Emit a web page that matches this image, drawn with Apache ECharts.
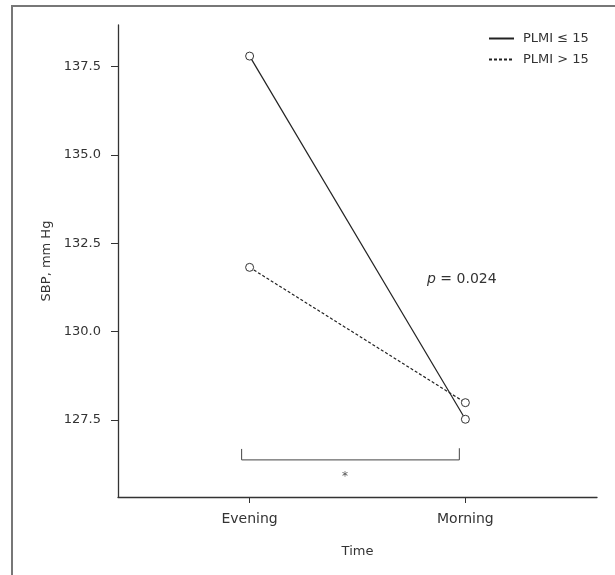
<!DOCTYPE html>
<html>
<head>
<meta charset="utf-8">
<script src="https://cdn.jsdelivr.net/npm/echarts@6/dist/echarts.min.js"></script>
<style>html,body{margin:0;padding:0;background:#fff;}#c{width:615px;height:575px;}</style>
</head>
<body>
<div id="c"></div>
<script>
// categories (x positions 0,1)
const categories = ['Evening', 'Morning'];
const seriesNames = ['PLMI \u2264 15', 'PLMI > 15'];
const plmiLow = [137.80, 127.52];   // PLMI <= 15
const plmiHigh = [131.82, 127.99];  // PLMI > 15
const yTicks = [127.5, 130.0, 132.5, 135.0, 137.5];
const bracketPts = [[-0.037, 126.68], [-0.037, 126.37], [0.972, 126.37], [0.972, 126.70]];
const pText = '0.024';

const FONT = 'DejaVu Sans';
const chart = echarts.init(document.getElementById('c'), null, {renderer: 'canvas'});
const toXY = arr => arr.map((v, i) => [i, v]);

chart.setOption({
  animation: false,
  backgroundColor: '#fff',
  textStyle: {fontFamily: FONT},
  grid: {left: 118, right: 18, top: 25, bottom: 78},
  legend: {
    orient: 'vertical', left: 483, top: 27, itemWidth: 25, itemHeight: 12, itemGap: 8,
    itemStyle: {opacity: 0},
    textStyle: {fontFamily: FONT, fontSize: 13, color: '#333', padding: [0, 0, 0, 4]},
    data: seriesNames
  },
  xAxis: {
    type: 'value', min: -0.61, max: 1.61,
    name: 'Time', nameLocation: 'middle', nameGap: 48,
    nameTextStyle: {fontFamily: FONT, fontSize: 13, color: '#333'},
    axisLine: {show: true, onZero: false, lineStyle: {color: '#333', width: 1.3}},
    axisTick: {show: true, length: 6, customValues: [0, 1], lineStyle: {color: '#333'}},
    axisLabel: {customValues: [0, 1], formatter: v => categories[Math.round(v)], fontSize: 14, color: '#333', margin: 15},
    splitLine: {show: false}
  },
  yAxis: {
    type: 'value', min: 125.32, max: 138.68,
    name: 'SBP, mm Hg', nameLocation: 'middle', nameGap: 46,
    nameTextStyle: {fontFamily: FONT, fontSize: 13, color: '#333'},
    axisLine: {show: true, onZero: false, lineStyle: {color: '#333', width: 1.3}},
    axisTick: {show: true, length: 7, customValues: yTicks, lineStyle: {color: '#333'}},
    axisLabel: {customValues: yTicks, formatter: v => v.toFixed(1), fontSize: 13, color: '#333', margin: 17},
    splitLine: {show: false}
  },
  series: [
    {
      name: seriesNames[0], type: 'line', data: toXY(plmiLow),
      symbol: 'circle', symbolSize: 8,
      itemStyle: {color: '#fff', borderColor: '#333', borderWidth: 1},
      lineStyle: {color: '#222', width: 1.2, type: 'solid'}, z: 3
    },
    {
      name: seriesNames[1], type: 'line', data: toXY(plmiHigh),
      symbol: 'circle', symbolSize: 8,
      itemStyle: {color: '#fff', borderColor: '#333', borderWidth: 1},
      lineStyle: {color: '#222', width: 1.2, type: [3, 2]}, z: 3
    },
    {
      name: 'bracket', type: 'line', data: bracketPts, symbol: 'none', silent: true,
      lineStyle: {color: '#444', width: 1}, z: 2
    }
  ],
  graphic: [
    {type: 'rect', shape: {x: 12, y: 6, width: 640, height: 620}, style: {fill: null, stroke: '#777', lineWidth: 2}, silent: true},
    {type: 'text', left: 427, top: 272, style: {
      text: '{i|p} = ' + pText,
      rich: {i: {fontStyle: 'italic', fontFamily: FONT, fontSize: 14, fill: '#333'}},
      fontFamily: FONT, fontSize: 14, fill: '#333'}},
    {type: 'text', left: 342, top: 471, style: {text: '*', fontFamily: FONT, fontSize: 12, fill: '#555'}}
  ]
});
</script>
</body>
</html>
